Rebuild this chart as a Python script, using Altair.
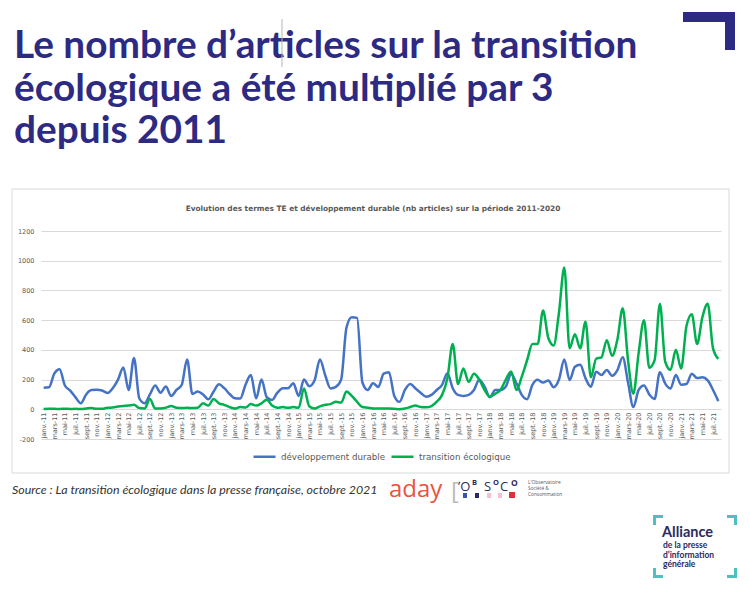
import altair as alt
import pandas as pd

# ---------------- data ----------------
month_names = ["janv.", "févr.", "mars", "avr.", "mai", "juin",
               "juil.", "août", "sept.", "oct.", "nov.", "déc."]
years = list(range(11, 22))
months = [f"{m}-{y:02d}" for y in years for m in month_names][:128]  # janv.-11 .. août-21

dev_durable = [
    145, 148, 240, 270, 160, 126, 80, 40, 100, 130, 132, 126,
    110, 142, 200, 281, 130, 345, 74, 40, 100, 160, 112, 153,
    90, 130, 165, 335, 103, 120, 100, 67, 120, 168, 142, 103,
    74, 72, 165, 230, 74, 200, 81, 63, 112, 142, 142, 175,
    90, 200, 155, 195, 335, 229, 140, 151, 200, 550, 620, 615,
    180, 130, 175, 150, 240, 250, 90, 50, 130, 170, 140, 110,
    85, 97, 130, 164, 243, 142, 97, 90, 97, 130, 198, 153,
    81, 130, 130, 153, 238, 175, 97, 68, 164, 198, 180, 194,
    148, 200, 335, 197, 286, 300, 208, 152, 253, 230, 264, 225,
    264, 350, 180, 15, 130, 160, 100, 70, 250, 173, 140, 230,
    165, 170, 240, 210, 215, 195, 130, 55,
]
transition_eco = [
    2, 3, 3, 2, 4, 2, 3, 2, 5, 8, 3, 3,
    10, 12, 18, 22, 25, 30, 8, 5, 70, 5, 5, 10,
    22, 10, 8, 10, 8, 10, 40, 25, 70, 40, 30, 15,
    5, 15, 12, 35, 25, 40, 65, 25, 10, 15, 10, 15,
    10, 140, 20, 5, 20, 30, 35, 50, 45, 120, 90, 50,
    15, 10, 5, 5, 5, 5, 3, 0, 5, 15, 25, 15,
    13, 22, 52, 97, 209, 440, 170, 275, 185, 240, 200, 130,
    85, 105, 130, 200, 255, 130, 220, 330, 440, 440, 665, 480,
    430, 650, 955, 410, 505, 410, 590, 215, 340, 350, 465, 360,
    470, 680, 330, 105, 380, 600, 280, 330, 710, 320, 265, 400,
    275, 560, 640, 440, 620, 710, 410, 340,
]
series_names = ["développement durable", "transition écologique"]
series_colors = ["#4472C4", "#00B050"]
y_ticks = [-200, 0, 200, 400, 600, 800, 1000, 1200]

title_lines = ["Le nombre d’articles sur la transition",
               "écologique a été multiplié par 3",
               "depuis 2011"]
chart_title = "Evolution des termes TE et  développement durable (nb articles) sur la période 2011-2020"
source_text = "Source : La transition écologique dans la presse française, octobre 2021"

rows = []
for i, m in enumerate(months):
    rows.append({"mois": m, "série": series_names[0], "articles": dev_durable[i]})
    rows.append({"mois": m, "série": series_names[1], "articles": transition_eco[i]})
df = pd.DataFrame(rows)

# plot origin in page pixels (page margin 8 + padding)
OX, OY = 41, 231
NAVY = "#2d2a84"
GREY = "#595959"
FONT = "DejaVu Sans"


def one():
    return alt.Data(values=[{"k": 1}])


def txt(text, x, y, size, color, weight="normal", style="normal", font="Lato",
        align="left", baseline="alphabetic", lineHeight=None):
    kw = dict(align=align, baseline=baseline, font=font, fontSize=size,
              fontWeight=weight, fontStyle=style, color=color)
    if lineHeight is not None:
        kw["lineHeight"] = lineHeight
    return alt.Chart(one()).mark_text(**kw).encode(
        x=alt.value(x - OX), y=alt.value(y - OY), text=alt.value(text))


def rect(x1, y1, x2, y2, fill=None, stroke=None, sw=1):
    kw = {}
    if fill is not None:
        kw["fill"] = fill
    else:
        kw["fillOpacity"] = 0
    if stroke is not None:
        kw["stroke"] = stroke
        kw["strokeWidth"] = sw
    return alt.Chart(one()).mark_rect(**kw).encode(
        x=alt.value(x1 - OX), x2=alt.value(x2 - OX),
        y=alt.value(y1 - OY), y2=alt.value(y2 - OY))


def rule(x1, y1, x2, y2, color, sw=1):
    return alt.Chart(one()).mark_rule(color=color, strokeWidth=sw).encode(
        x=alt.value(x1 - OX), x2=alt.value(x2 - OX),
        y=alt.value(y1 - OY), y2=alt.value(y2 - OY))


# ---------------- main lines ----------------
lines = alt.Chart(df).mark_line(interpolate="monotone", strokeWidth=2.5).encode(
    x=alt.X("mois:O", sort=months,
            scale=alt.Scale(type="point", padding=0.5),
            axis=alt.Axis(values=months[::2], labelAngle=270, title=None,
                          labelFont=FONT, labelFontSize=6.5, labelColor=GREY,
                          labelPadding=3, ticks=False, domain=False, grid=False,
                          labelOverlap=False, labelBound=False, labelFlush=False,
                          offset=-30)),
    y=alt.Y("articles:Q",
            scale=alt.Scale(domain=[-200, 1200], nice=False, zero=False),
            axis=alt.Axis(values=y_ticks, title=None, labelExpr="'' + datum.value",
                          labelFont=FONT, labelFontSize=6.5, labelColor=GREY,
                          labelPadding=7, ticks=False, domain=False,
                          gridColor="#d9d9d9", gridWidth=1)),
    color=alt.Color("série:N",
                    scale=alt.Scale(domain=series_names, range=series_colors),
                    legend=alt.Legend(orient="none", legendX=211, legendY=213,
                                      direction="horizontal", title=None,
                                      symbolType="stroke", symbolSize=484,
                                      symbolStrokeWidth=2.5, labelFont=FONT,
                                      labelFontSize=8.7, labelColor=GREY,
                                      columnPadding=0, labelOffset=4)),
)

layers = [
    # chart frame
    rect(12, 189, 729, 473, stroke="#d9d9d9", sw=1),
    lines,
    txt(chart_title, 373, 211, 7.4, GREY, weight="bold", font=FONT, align="center"),
    # slide title
    txt(title_lines, 14, 58, 38.8, NAVY, weight="bold", lineHeight=42.5),
    rule(282, 19, 282, 67, "#b5b5b5", 1),
    # corner mark
    rect(683, 12, 735, 22, fill=NAVY),
    rect(725, 12, 735, 50, fill=NAVY),
    # source
    txt(source_text, 12, 494, 12.4, "#333333", style="italic", font="Lato"),
    txt("aday", 389, 497, 24, "#E8553F", font="Open Sans"),
    txt("[", 451, 499, 24, "#bbbbbb", font="Open Sans"),
    txt("ʼO", 458, 491, 13, "#2d2a5e", font="Open Sans"),
    txt("B", 472, 485, 7.5, "#2d2a5e", font="Open Sans", weight="bold"),
    txt("S", 484, 491, 13, "#2d2a5e", font="Open Sans"),
    txt("O", 493, 485, 7.5, "#2d2a5e", font="Open Sans", weight="bold"),
    txt("C", 500, 491, 13, "#2d2a5e", font="Open Sans"),
    txt("O", 511, 486, 8.5, "#2d2a5e", font="Open Sans", weight="bold"),
    rect(463, 493, 467, 498, fill="#3a56a8"),
    rect(475, 493, 479, 498, fill="#2d2a5e"),
    rect(487, 493, 491, 498, fill="#f3c2cf"),
    rect(498, 493, 502, 498, fill="#f3c2cf"),
    rect(509, 492, 515, 498, fill="#e0303a"),
    txt(["L'Observatoire", "Société &", "Consommation"], 528, 484, 4.8, "#555555",
        font="Open Sans", lineHeight=6),
    # Alliance logo
    rect(653, 515, 663, 518, fill="#4fbfc4"), rect(653, 515, 656, 525, fill="#4fbfc4"),
    rect(727, 515, 737, 518, fill="#4fbfc4"), rect(734, 515, 737, 525, fill="#4fbfc4"),
    rect(653, 575, 663, 578, fill="#4fbfc4"), rect(653, 568, 656, 578, fill="#4fbfc4"),
    rect(727, 575, 737, 578, fill="#4fbfc4"), rect(734, 568, 737, 578, fill="#4fbfc4"),
    txt("Alliance", 662, 537, 14.5, "#2d2a5e", weight="bold", font="Lato"),
    txt("de la presse", 663, 548, 8.5, "#2d2a5e", weight="bold", font="Lato"),
    txt("d’information", 663, 557.5, 8.5, "#2d2a5e", weight="bold", font="Lato"),
    txt("générale", 663, 567, 8.5, "#2d2a5e", weight="bold", font="Lato"),
]

chart = alt.layer(*layers).properties(
    width=680, height=208,
    autosize=alt.AutoSizeParams(type="none"),
    padding={"left": 33, "top": 223, "right": 21, "bottom": 148},
    background="white",
).configure_view(stroke=None)

chart.save("out.html", embed_options={"renderer": "svg", "actions": False})
